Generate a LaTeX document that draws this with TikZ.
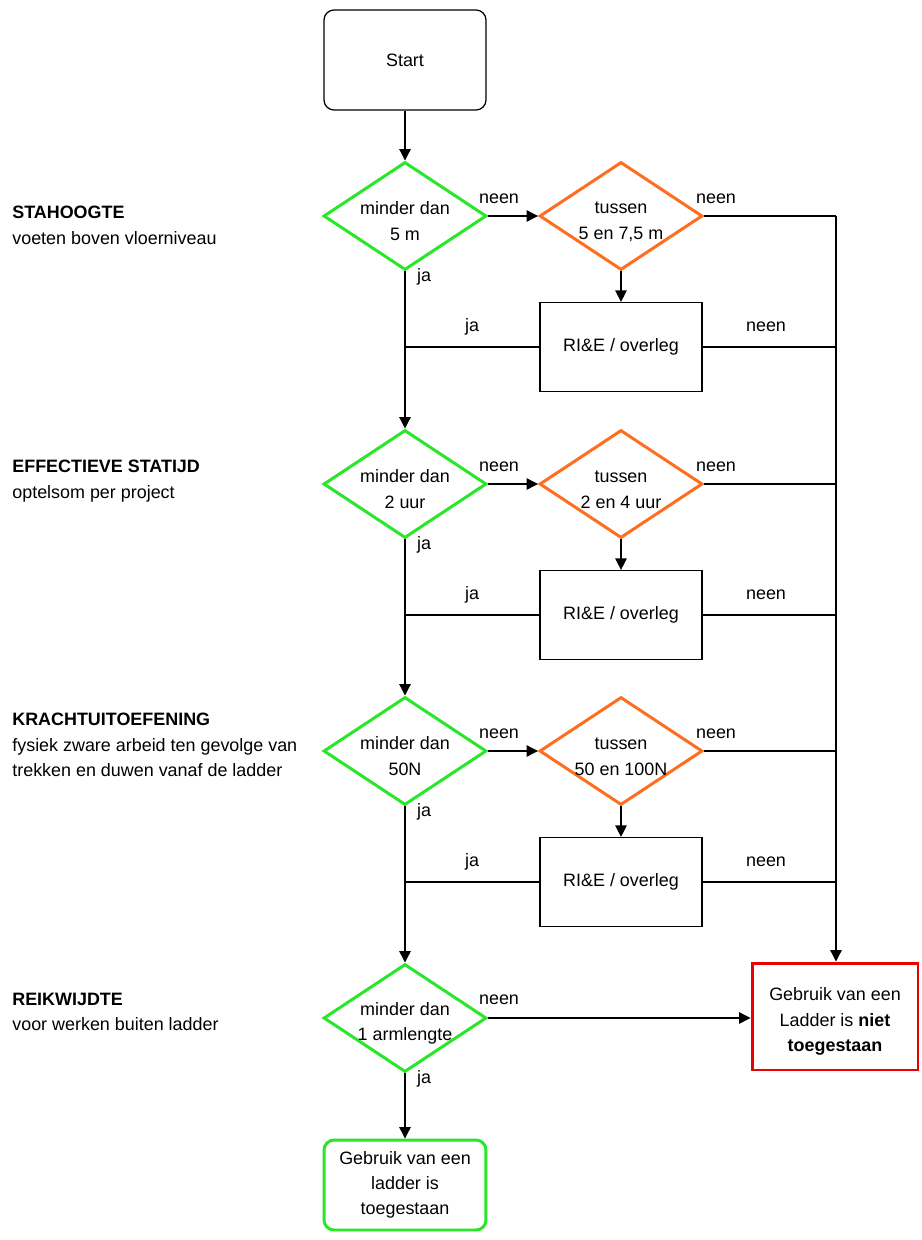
\documentclass[tikz,border=0pt]{standalone}
\usepackage{fontspec}
\setmainfont{Liberation Sans}
\usepackage{xcolor}
\usepackage{tikz}
\usetikzlibrary{positioning, arrows.meta, shapes.geometric}

\definecolor{okgreen}{RGB}{40,230,40}
\definecolor{midorange}{RGB}{255,110,30}
\definecolor{stopred}{RGB}{235,0,0}

\begin{document}
\begin{tikzpicture}[x=0.02cm, y=-0.02cm,
    >={Triangle[length=6.5pt,width=6.5pt]},
    every node/.style={font=\fontsize{10.2}{14.4}\selectfont},
    line/.style={draw, line width=0.7pt},
    decide/.style={draw=okgreen, line width=1.7pt, diamond, aspect=1.5, inner sep=-12pt,
        minimum width=3.26cm, minimum height=2.16cm, align=center, text height=27.5pt},
    between/.style={decide, draw=midorange},
    riebox/.style={draw, line width=0.7pt, rectangle, minimum width=3.24cm,
        minimum height=1.78cm, align=center},
    endbox/.style={draw, rectangle, align=center, inner sep=0pt},
    lbl/.style={inner sep=0pt},
    side/.style={inner sep=0pt, anchor=north west, align=left}]

\useasboundingbox (0,0) rectangle (921,1240);

% Start
\node[endbox, line width=0.7pt, rounded corners=0.2cm, minimum width=3.24cm,
    minimum height=2.0cm] (start) at (405,60) {Start};

% Right collecting line
\coordinate (rtop) at (836,216);

% Rows with an RI&E check
\foreach \i/\y/\dtxt/\otxt in {1/216/{minder dan\\5 m}/{tussen\\5 en 7{,}5 m},
                               2/484/{minder dan\\2 uur}/{tussen\\2 en 4 uur},
                               3/751/{minder dan\\50N}/{tussen\\50 en 100N}} {
    \node[decide] (D-\i) at (405,\y) {\dtxt};
    \node[between] (O-\i) at (621,\y) {\otxt};
    \node[riebox] (B-\i) at (621,\y+131) {RI\&E / overleg};
    \coordinate (R-\i) at (836,\y);

    \draw[line, ->] (D-\i.east) -- (O-\i.west);
    \draw[line, ->] (O-\i.south) -- (B-\i.north);
    \draw[line] (O-\i.east) -- (R-\i);
    \draw[line] (B-\i.east) -- (B-\i.east -| R-\i);
    \draw[line] (B-\i.west) -- (B-\i.west -| D-\i.south);

    \node[lbl] (N-\i) at (499,\y-17) {neen};
    \node[lbl] (J-\i) at (424,\y+61) {ja};
    \node[lbl] (JB-\i) at (472,\y+111) {ja};
    \node[lbl] (NB-\i) at (766,\y+111) {neen};
    \node[lbl] (NO-\i) at (716,\y-17) {neen};
}

% Last question
\node[decide] (D-4) at (405,1018) {minder dan\\1 armlengte};

% End states
\node[endbox, draw=stopred, line width=1.7pt, minimum width=3.32cm,
    minimum height=2.14cm, text height=42pt] (stop) at (835,1016.5)
    {Gebruik van een\\Ladder is \textbf{niet}\\\textbf{toegestaan}};
\node[endbox, draw=okgreen, line width=1.7pt, rounded corners=0.2cm,
    minimum width=3.24cm, minimum height=1.8cm] (ok) at (405,1185)
    {Gebruik van een\\ladder is\\toegestaan};

% Main line
\draw[line, ->] (start.south) -- (D-1.north);
\draw[line, ->] (D-1.south) -- (D-2.north);
\draw[line, ->] (D-2.south) -- (D-3.north);
\draw[line, ->] (D-3.south) -- (D-4.north);
\draw[line, ->] (D-4.south) -- (ok.north);
\draw[line, ->] (D-4.east) -- (stop.west |- D-4.east);
\draw[line, ->] (rtop) -- (rtop |- stop.north);

\node[lbl] (N-4) at (499,1000) {neen};
\node[lbl] (J-4) at (424,1079) {ja};

% Side labels
\node[side] (S-1) at (12,206) {\textbf{STAHOOGTE}\\voeten boven vloerniveau};
\node[side] (S-2) at (12,460) {\textbf{EFFECTIEVE STATIJD}\\optelsom per project};
\node[side] (S-3) at (12,713) {\textbf{KRACHTUITOEFENING}\\fysiek zware arbeid ten gevolge van\\trekken en duwen vanaf de ladder};
\node[side] (S-4) at (12,993) {\textbf{REIKWIJDTE}\\voor werken buiten ladder};

\end{tikzpicture}
\end{document}
